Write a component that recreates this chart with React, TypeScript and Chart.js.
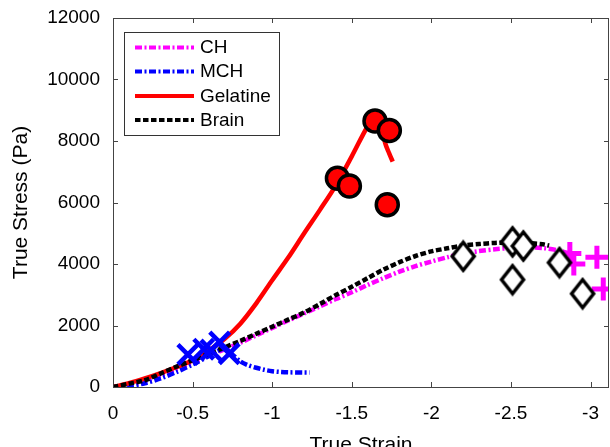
import React, { useEffect, useRef } from 'react';
import { Chart, registerables } from 'chart.js';

Chart.register(...registerables);

// ---- Data ----
const xTicks = [0, -0.5, -1, -1.5, -2, -2.5, -3];
const yTicks = [0, 2000, 4000, 6000, 8000, 10000, 12000];
const legendLabels = ['CH', 'MCH', 'Gelatine', 'Brain'];

// CH fit curve
const chStrain = [0, -0.1, -0.2, -0.3, -0.4, -0.5, -0.6, -0.7, -0.8, -0.9, -1.0, -1.1, -1.2, -1.3, -1.4, -1.5, -1.6, -1.7, -1.8, -1.9, -2.0, -2.1, -2.2, -2.3, -2.4, -2.5, -2.6, -2.7, -2.8, -2.88];
const chStress = [0, 60, 190, 380, 590, 800, 1010, 1220, 1440, 1680, 1920, 2160, 2390, 2620, 2860, 3080, 3320, 3540, 3750, 3930, 4080, 4220, 4340, 4420, 4480, 4520, 4540, 4520, 4440, 4320];

// MCH fit curve
const mchStrain = [0, -0.1, -0.2, -0.3, -0.4, -0.5, -0.6, -0.65, -0.7, -0.75, -0.8, -0.85, -0.9, -0.95, -1.0, -1.05, -1.1, -1.2, -1.235];
const mchStress = [0, 30, 120, 280, 490, 730, 1000, 1150, 1240, 1060, 830, 705, 625, 560, 515, 490, 478, 470, 470];

// Gelatine fit curve
const gelStrain = [0, -0.1, -0.2, -0.3, -0.4, -0.5, -0.6, -0.7, -0.8, -0.9, -1.0, -1.1, -1.2, -1.3, -1.4, -1.5, -1.6, -1.64, -1.67, -1.69, -1.71, -1.735, -1.757];
const gelStress = [0, 125, 280, 455, 650, 870, 1180, 1560, 2060, 2720, 3470, 4200, 4990, 5760, 6560, 7500, 8480, 8700, 8740, 8500, 7930, 7600, 7330];

// Brain fit curve
const brainStrain = [0, -0.1, -0.2, -0.3, -0.4, -0.5, -0.6, -0.7, -0.8, -0.9, -1.0, -1.1, -1.2, -1.3, -1.4, -1.5, -1.6, -1.7, -1.8, -1.9, -2.0, -2.1, -2.2, -2.3, -2.4, -2.5, -2.6, -2.7, -2.74];
const brainStress = [0, 105, 220, 440, 665, 870, 1075, 1285, 1500, 1730, 1960, 2190, 2420, 2700, 2990, 3260, 3540, 3820, 4060, 4260, 4410, 4510, 4600, 4650, 4685, 4695, 4680, 4640, 4600];

// Experimental points
const mchPtStrain = [-0.47, -0.57, -0.615, -0.67, -0.73];
const mchPtStress = [1055, 1230, 1200, 1460, 1080];

const gelPtStrain = [-1.41, -1.485, -1.646, -1.736, -1.723];
const gelPtStress = [6790, 6540, 8650, 8340, 5930];

const brainPtStrain = [-2.2, -2.51, -2.578, -2.51, -2.805, -2.95];
const brainPtStress = [4250, 4720, 4585, 3490, 4045, 3036];

const chPtStrain = [-2.87, -2.895, -3.04, -3.08];
const chPtStress = [4340, 4000, 4220, 3190];

const pts = (xs: number[], ys: number[]) => xs.map((x, i) => ({ x, y: ys[i] }));

const FONT = "'Liberation Sans', Arial, Helvetica, sans-serif";

function makeDiamond(): HTMLCanvasElement {
  const c = document.createElement('canvas');
  const w = 28, h = 34;
  c.width = w; c.height = h;
  const g = c.getContext('2d')!;
  g.beginPath();
  g.moveTo(w / 2, 3);
  g.lineTo(w - 3, h / 2);
  g.lineTo(w / 2, h - 3);
  g.lineTo(3, h / 2);
  g.closePath();
  g.fillStyle = '#ffffff';
  g.fill();
  g.lineWidth = 3.5;
  g.strokeStyle = '#000000';
  g.lineJoin = 'miter';
  g.stroke();
  return c;
}

const framePlugin = {
  id: 'frameAndLegend',
  afterDraw(chart: any) {
    const { ctx, chartArea } = chart;
    const { left, right, top, bottom } = chartArea;
    const xs = chart.scales.x;
    const ys = chart.scales.y;
    ctx.save();
    ctx.strokeStyle = '#444444';
    ctx.lineWidth = 1;
    ctx.strokeRect(Math.round(left) + 0.5, Math.round(top) + 0.5, Math.round(right - left) - 1, Math.round(bottom - top));
    const tl = 5;
    ctx.beginPath();
    xs.ticks.forEach((t: any) => {
      const px = Math.round(xs.getPixelForValue(t.value)) + 0.5;
      ctx.moveTo(px, bottom); ctx.lineTo(px, bottom - tl);
      ctx.moveTo(px, top); ctx.lineTo(px, top + tl);
    });
    ys.ticks.forEach((t: any) => {
      const py = Math.round(ys.getPixelForValue(t.value)) + 0.5;
      ctx.moveTo(left, py); ctx.lineTo(left + tl, py);
      ctx.moveTo(right, py); ctx.lineTo(right - tl, py);
    });
    ctx.stroke();

    // legend
    const bx = 124.5, by = 32.5, bw = 155, bh = 103;
    ctx.fillStyle = '#ffffff';
    ctx.fillRect(bx, by, bw, bh);
    ctx.strokeStyle = '#333333';
    ctx.lineWidth = 1;
    ctx.strokeRect(bx, by, bw, bh);
    const rowsY = [47.5, 71.5, 96, 120];
    ctx.font = `19px ${FONT}`;
    ctx.textBaseline = 'middle';
    ctx.textAlign = 'left';
    legendLabels.forEach((lab, i) => {
      const ds = chart.data.datasets.find((d: any) => d.label === lab && d.showLine);
      if (!ds) return;
      const y = rowsY[i];
      ctx.save();
      ctx.strokeStyle = ds.borderColor;
      ctx.lineWidth = 4;
      ctx.setLineDash(ds.borderDash || []);
      ctx.beginPath();
      ctx.moveTo(135, y);
      ctx.lineTo(194, y);
      ctx.stroke();
      ctx.restore();
      ctx.fillStyle = '#000000';
      ctx.fillText(lab, 200, y + 0.5);
    });
    ctx.restore();
  },
};

export default function App() {
  const ref = useRef<HTMLCanvasElement | null>(null);

  useEffect(() => {
    if (!ref.current) return;
    const diamond = makeDiamond();
    const lineBase = { showLine: true, pointRadius: 0, borderWidth: 4.5, tension: 0.3, fill: false };
    const chart = new Chart(ref.current, {
      type: 'scatter',
      data: {
        datasets: [
          { ...lineBase, label: 'CH', data: pts(chStrain, chStress), borderColor: '#ff00ff', borderDash: [7, 2.5, 2, 2.5], order: 4 },
          { ...lineBase, label: 'MCH', data: pts(mchStrain, mchStress), borderColor: '#0000ff', borderDash: [7, 2.5, 2, 2.5], order: 3 },
          { ...lineBase, label: 'Gelatine', data: pts(gelStrain, gelStress), borderColor: '#ff0000', order: 2 },
          { ...lineBase, label: 'Brain', data: pts(brainStrain, brainStress), borderColor: '#000000', borderDash: [5.5, 2.5], order: 1 },
          { label: 'MCH data', data: pts(mchPtStrain, mchPtStress), showLine: false, pointStyle: 'crossRot', pointRadius: 14, borderColor: '#0000ff', borderWidth: 4.5, order: 0 },
          { label: 'Gelatine data', data: pts(gelPtStrain, gelPtStress), showLine: false, pointStyle: 'circle', pointRadius: 11, backgroundColor: '#ff0000', borderColor: '#000000', borderWidth: 3.5, order: 0 },
          { label: 'Brain data', data: pts(brainPtStrain, brainPtStress), showLine: false, pointStyle: diamond, pointRadius: 14, order: 0 },
          { label: 'CH data', data: pts(chPtStrain, chPtStress), showLine: false, pointStyle: 'cross', pointRadius: 11.5, borderColor: '#ff00ff', borderWidth: 5, order: 0 },
        ],
      },
      options: {
        responsive: false,
        animation: false,
        events: [],
        layout: { autoPadding: false, padding: { top: 18, right: 1, left: 0, bottom: 0 } },
        plugins: { legend: { display: false }, tooltip: { enabled: false } },
        scales: {
          x: {
            type: 'linear',
            reverse: true,
            min: -3.116,
            max: 0,
            grid: { display: false, drawTicks: false },
            border: { display: false },
            afterBuildTicks: (s: any) => { s.ticks = xTicks.map((v) => ({ value: v })); },
            afterFit: (s: any) => { s.height = 60; s.paddingLeft = 0; s.paddingRight = 0; s.paddingTop = 0; s.paddingBottom = 0; },
            ticks: {
              color: '#000',
              font: { family: FONT, size: 19 },
              padding: 15,
              maxRotation: 0,
              autoSkip: false,
              callback: (v: any) => String(v),
            },
            title: {
              display: true,
              text: 'True Strain',
              color: '#000',
              font: { family: FONT, size: 21, lineHeight: 1.2 },
              padding: { top: 0, bottom: -10.6 },
            },
          },
          y: {
            type: 'linear',
            min: 0,
            max: 12000,
            grid: { display: false, drawTicks: false },
            border: { display: false },
            afterBuildTicks: (s: any) => { s.ticks = yTicks.map((v) => ({ value: v })); },
            afterFit: (s: any) => { s.width = 113; s.paddingLeft = 0; s.paddingRight = 0; s.paddingTop = 0; s.paddingBottom = 0; },
            ticks: {
              color: '#000',
              font: { family: FONT, size: 19 },
              padding: 13,
              autoSkip: false,
              callback: (v: any) => String(v),
            },
            title: {
              display: true,
              text: 'True Stress (Pa)',
              color: '#000',
              font: { family: FONT, size: 21, lineHeight: 1.2 },
              padding: { top: 8.4, bottom: 0 },
            },
          },
        },
      },
      plugins: [framePlugin],
    } as any);
    return () => chart.destroy();
  }, []);

  return (
    <div style={{ position: 'fixed', left: 0, top: 0, width: 610, height: 447, background: '#fff' }}>
      <canvas ref={ref} width={610} height={447} style={{ display: 'block', width: 610, height: 447 }} />
    </div>
  );
}
